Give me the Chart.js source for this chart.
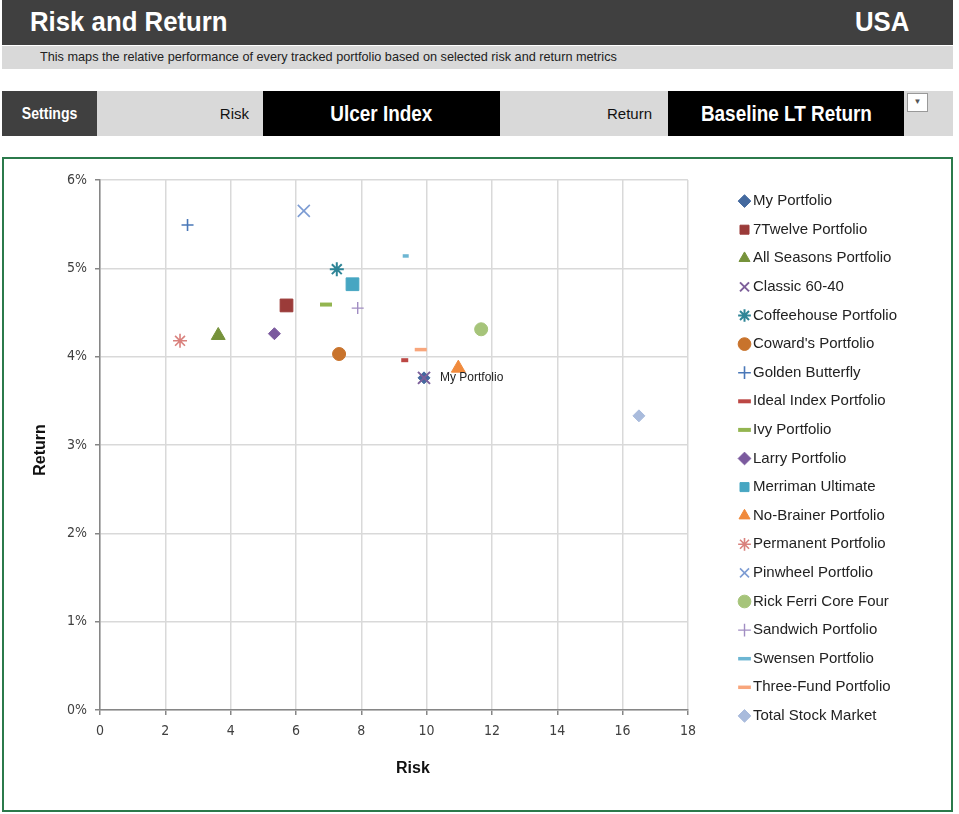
<!DOCTYPE html>
<html>
<head>
<meta charset="utf-8">
<script src="https://cdn.jsdelivr.net/npm/chart.js@4.4.1/dist/chart.umd.min.js"></script>
<style>
  body { margin: 0; background: #fff; font-family: 'Liberation Sans', Arial, sans-serif; }
  .bar { position: absolute; }
  .n { display: inline-block; transform-origin: left center; }
  #head { left: 2px; top: 0; width: 951px; height: 45px; background: #404040; color: #fff; }
  #head .t { position: absolute; left: 28px; top: 6px; font-size: 28px; font-weight: bold; transform: scaleX(0.92); }
  #head .c { position: absolute; left: 853px; top: 6px; font-size: 28px; font-weight: bold; transform: scaleX(0.92); }
  #sub { left: 2px; top: 46px; width: 951px; height: 23px; background: #d9d9d9; color: #222; font-size: 12.7px; line-height: 23px; }
  #sub span { margin-left: 38px; }
  #row { left: 2px; top: 91px; width: 951px; height: 45px; background: #d9d9d9; }
  .cell { position: absolute; top: 0; height: 45px; line-height: 45px; }
  .big { font-weight: bold; font-size: 22px; transform: scaleX(0.86); transform-origin: center center; }
  #chartBox { position: absolute; left: 2px; top: 157px; width: 951px; height: 655px; box-sizing: border-box; border: 2px solid #2b7a4b; background: #fff; }
  #chartBox div { position: relative; width: 947px; height: 651px; }
</style>
</head>
<body>
<div class="bar" id="head"><span class="t n">Risk and Return</span><span class="c n">USA</span></div>
<div class="bar" id="sub"><span>This maps the relative performance of every tracked portfolio based on selected risk and return metrics</span></div>
<div class="bar" id="row">
  <div class="cell" style="left:0;width:95px;background:#404040;color:#fff;text-align:center;"><span class="n" style="font-weight:bold;font-size:16px;transform:scaleX(0.88);transform-origin:center center;">Settings</span></div>
  <div class="cell" style="left:95px;width:152px;text-align:right;font-size:15px;color:#111;">Risk</div>
  <div class="cell" style="left:261px;width:237px;background:#000;color:#fff;text-align:center;"><span class="n big">Ulcer Index</span></div>
  <div class="cell" style="left:498px;width:152px;text-align:right;font-size:15px;color:#111;">Return</div>
  <div class="cell" style="left:666px;width:236px;background:#000;color:#fff;text-align:center;"><span class="n big">Baseline LT Return</span></div>
  <div style="position:absolute;left:905px;top:2px;width:19px;height:17px;background:#fff;border:1px solid #999;font-size:8px;line-height:15px;text-align:center;color:#555;">&#9660;</div>
</div>
<div id="chartBox"><div><canvas id="myChart"></canvas></div></div>

<script>
'use strict';
// datos
const portfolios = ['My Portfolio', '7Twelve Portfolio', 'All Seasons Portfolio', 'Classic 60-40',
    'Coffeehouse Portfolio', "Coward's Portfolio", 'Golden Butterfly', 'Ideal Index Portfolio',
    'Ivy Portfolio', 'Larry Portfolio', 'Merriman Ultimate', 'No-Brainer Portfolio',
    'Permanent Portfolio', 'Pinwheel Portfolio', 'Rick Ferri Core Four', 'Sandwich Portfolio',
    'Swensen Portfolio', 'Three-Fund Portfolio', 'Total Stock Market'];
const riskValues = [9.92, 5.71, 3.62, 9.92, 7.25, 7.32, 2.68, 9.33, 6.92, 5.34, 7.73, 10.97,
    2.45, 6.24, 11.67, 7.89, 9.36, 9.82, 16.50];
const returnValues = [3.76, 4.58, 4.24, 3.76, 4.99, 4.03, 5.49, 3.96, 4.59, 4.26, 4.82, 3.87,
    4.18, 5.65, 4.31, 4.55, 5.14, 4.08, 3.33];
const riskTicks = ['0', '2', '4', '6', '8', '10', '12', '14', '16', '18'];
const returnTicks = ['0%', '1%', '2%', '3%', '4%', '5%', '6%'];
const labelledPoint = 'My Portfolio';
const xTitle = 'Risk';
const yTitle = 'Return';

// estilos: [pointStyle, color, radius, borderWidth]
const markerStyles = [
    ['rectRot', '#44699f', 6, 1],
    ['rect', '#9b3b39', 9, 1],
    ['triangle', '#76923b', 8, 1],
    ['crossRot', '#7d5f9a', 8.5, 2],
    ['star', '#2f8597', 7, 2],
    ['circle', '#c8732c', 6.5, 1],
    ['cross', '#4a78b8', 6, 1.6],
    ['line', '#bc4744', 3.5, 4],
    ['line', '#93b550', 6, 4],
    ['rectRot', '#7b5a9e', 6, 1],
    ['rect', '#47a6c2', 9, 1],
    ['triangle', '#f08a3c', 8, 1],
    ['star', '#d9817d', 7, 1.6],
    ['crossRot', '#7d9cd3', 8.5, 1.6],
    ['circle', '#a6c47a', 6.5, 1],
    ['cross', '#a18dc2', 6, 1.4],
    ['line', '#6db6d3', 3, 3.5],
    ['line', '#f8a67c', 6, 3.5],
    ['rectRot', '#a9bbdc', 6, 1]
];

const FONT_NARROW = "'Liberation Sans Narrow', 'Arial Narrow', 'DejaVu Sans Condensed', sans-serif";
const FONT = "'Liberation Sans', Arial, sans-serif";

const datasets = portfolios.map((name, i) => {
    const [style, color, radius, bw] = markerStyles[i];
    return {
        label: name,
        data: [{ x: riskValues[i], y: returnValues[i] }],
        pointStyle: style,
        pointRadius: radius,
        pointHoverRadius: radius,
        backgroundColor: color,
        borderColor: color,
        borderWidth: bw,
        order: name === 'Classic 60-40' ? -1 : (name === 'My Portfolio' ? 1 : 0)
    };
});

// etiqueta del punto
const pointLabel = {
    id: 'pointLabel',
    afterDatasetsDraw(chart) {
        const idx = portfolios.indexOf(labelledPoint);
        const pt = chart.getDatasetMeta(idx).data[0];
        const ctx = chart.ctx;
        ctx.save();
        ctx.font = '12px ' + FONT;
        ctx.fillStyle = '#222';
        ctx.textBaseline = 'middle';
        ctx.fillText(labelledPoint, pt.x + 16, pt.y);
        ctx.restore();
    }
};

// titulos de ejes (como en Excel, algo desplazados del centro)
const axisTitles = {
    id: 'axisTitles',
    afterDraw(chart) {
        const { left, right, top, bottom } = chart.chartArea;
        const ctx = chart.ctx;
        ctx.save();
        ctx.font = 'bold 16px ' + FONT;
        ctx.fillStyle = '#111';
        ctx.textAlign = 'center';
        ctx.textBaseline = 'middle';
        ctx.fillText(xTitle, (left + right) / 2 + 19, bottom + 59);
        ctx.translate(37, (top + bottom) / 2 + 5);
        ctx.rotate(-Math.PI / 2);
        ctx.fillText(yTitle, 0, 0);
        ctx.restore();
    }
};

const ctx = document.getElementById('myChart');
const myChart = new Chart(ctx.getContext('2d'), {
    type: 'scatter',
    data: { datasets: datasets },
    plugins: [pointLabel, axisTitles],
    options: {
        responsive: true,
        maintainAspectRatio: false,
        animation: false,
        layout: { padding: { top: 21, left: 0, bottom: 0, right: 44 } },
        plugins: {
            tooltip: { enabled: false },
            legend: {
                position: 'right',
                align: 'start',
                labels: {
                    usePointStyle: true,
                    boxWidth: 2,
                    boxHeight: 9,
                    padding: 13.6,
                    color: '#222',
                    font: { family: FONT, size: 15 },
                    sort: (a, b) => a.datasetIndex - b.datasetIndex
                }
            }
        },
        scales: {
            x: {
                min: 0, max: 18,
                afterFit: s => { s.height = 100; },
                ticks: {
                    stepSize: 2, padding: 8, color: '#404040',
                    font: { family: FONT_NARROW, size: 14 },
                    callback: (v, i) => riskTicks[i]
                },
                grid: { color: '#d9d9d9', lineWidth: 1.5, tickLength: 5, tickColor: '#868686' },
                border: { color: '#868686', width: 1.5 }
            },
            y: {
                min: 0, max: 6,
                afterFit: s => { s.width = 96; },
                ticks: {
                    stepSize: 1, padding: 8, color: '#404040',
                    font: { family: FONT_NARROW, size: 14 },
                    callback: (v, i) => returnTicks[i]
                },
                grid: { color: '#d9d9d9', lineWidth: 1.5, tickLength: 5, tickColor: '#868686' },
                border: { color: '#868686', width: 1.5 }
            },
            gap: {
                type: 'linear', axis: 'y', position: 'right', display: false,
                afterFit: s => { s.width = 42; }
            }
        }
    }
});
</script>
</body>
</html>
